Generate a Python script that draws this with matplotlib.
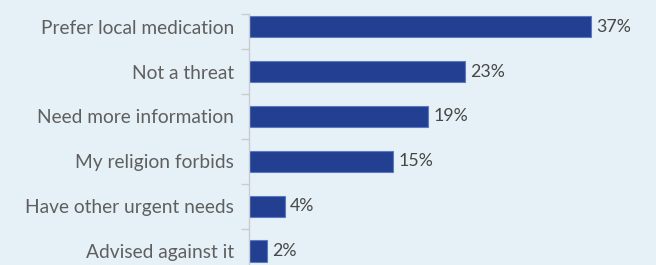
import matplotlib
matplotlib.use("Agg")
import matplotlib.pyplot as plt
from matplotlib.ticker import FixedLocator

categories = ["Prefer local medication", "Not a threat", "Need more information",
              "My religion forbids", "Have other urgent needs", "Advised against it"]
values = [37.0, 23.4, 19.4, 15.6, 3.9, 2.0]
value_labels = ["37%", "23%", "19%", "15%", "4%", "2%"]

BG = "#E6F1F7"
BAR = "#233F91"
EDGE = "#5B79C2"
TXT = "#5F5F5F"

plt.rcParams['font.family'] = ['Lato', 'DejaVu Sans']

fig = plt.figure(figsize=(6.56, 2.65), dpi=100, facecolor=BG)
ax = fig.add_axes([249/656, 0, 1 - 249/656, 1 - 14/265], facecolor=BG)

y = list(range(len(categories)))
ax.barh(y, values, height=0.48, color=BAR, edgecolor=EDGE, linewidth=0.8)

top = -12.7/44.9
bottom = (265 - 26.7)/44.9
ax.set_ylim(bottom, top)
ax.set_xlim(0, 407/9.24)

ax.set_yticks(y)
ax.set_yticklabels(categories, fontsize=13.8, color=TXT)
ax.tick_params(axis='y', which='major', length=0, pad=10.8)
ax.yaxis.set_minor_locator(FixedLocator([top, 0.5, 1.5, 2.5, 3.5, 4.5]))
ax.tick_params(axis='y', which='minor', length=6, color="#C8CCD0", width=1)
ax.set_xticks([])

for s in ['top', 'right', 'bottom']:
    ax.spines[s].set_visible(False)
ax.spines['left'].set_color("#C8CCD0")
ax.spines['left'].set_linewidth(1)

for yi, v, lab in zip(y, values, value_labels):
    ax.text(v + 0.55, yi, lab, va='center', ha='left', fontsize=12.8, color="#474747")

fig.savefig("out.png", dpi=100, facecolor=BG)
